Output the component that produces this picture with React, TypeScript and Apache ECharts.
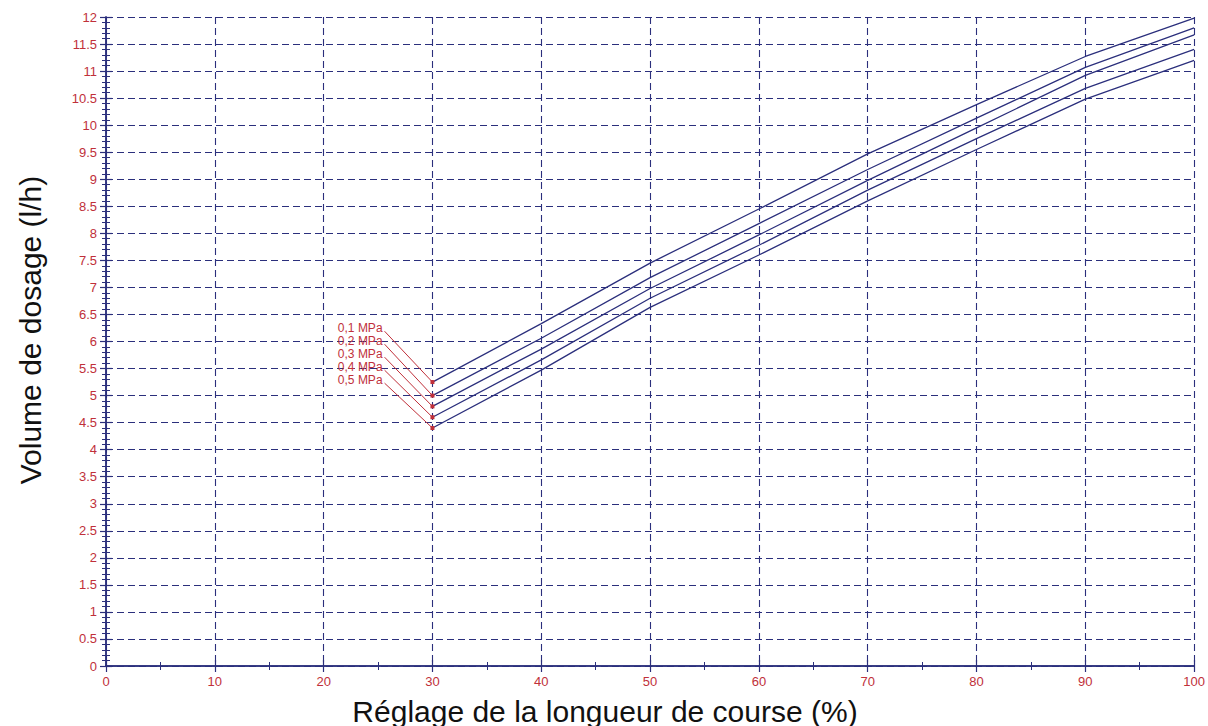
import React, { useEffect, useRef } from "react";
import * as echarts from "echarts";

const strokeX = [30, 40, 50, 60, 70, 80, 90, 100];
const pressureLabels = ["0,1 MPa", "0,2 MPa", "0,3 MPa", "0,4 MPa", "0,5 MPa"];
const flow01 = [5.25, 6.33, 7.45, 8.45, 9.47, 10.38, 11.27, 11.98];
const flow02 = [5.0, 6.06, 7.18, 8.18, 9.18, 10.13, 11.07, 11.8];
const flow03 = [4.8, 5.86, 6.98, 7.97, 8.98, 9.95, 10.92, 11.67];
const flow04 = [4.6, 5.66, 6.8, 7.78, 8.8, 9.75, 10.68, 11.4];
const flow05 = [4.4, 5.47, 6.63, 7.6, 8.6, 9.55, 10.48, 11.2];
const flows = [flow01, flow02, flow03, flow04, flow05];
const leaderX = 25.6;
const leaderY = [6.19, 5.95, 5.71, 5.47, 5.23];

const NAVY = "#2b2f7c";
const RED = "#c0303a";
const FONT = "Liberation Sans, Arial, sans-serif";

export default function App() {
  const ref = useRef<HTMLDivElement>(null);
  useEffect(() => {
    const chart = echarts.init(ref.current!, null, { renderer: "svg" });
    const axisCommon = {
      type: "value" as const,
      axisLine: { show: true, lineStyle: { color: NAVY, width: 1.5 } },
      axisTick: { show: true, inside: true, length: 6, lineStyle: { color: NAVY, width: 1.2 } },
      minorTick: { show: true, length: 4, lineStyle: { color: NAVY, width: 1 } },
    };
    const series: any[] = [];
    flows.forEach((f) => {
      series.push({
        type: "line",
        data: strokeX.map((x, j) => [x, f[j]]),
        symbol: "none",
        lineStyle: { color: NAVY, width: 1.3 },
        silent: true,
        z: 3,
      });
    });
    flows.forEach((f, i) => {
      series.push({
        type: "line",
        showSymbol: true,
        data: [
          {
            value: [leaderX, leaderY[i]],
            symbol: "circle",
            symbolSize: 0.01,
            label: {
              show: true,
              position: "left",
              distance: 2,
              offset: [0, -3],
              formatter: pressureLabels[i],
              color: RED,
              fontSize: 12,
              lineHeight: 11,
              fontFamily: FONT,
            },
          },
          { value: [30, f[0]], symbol: "rect", symbolSize: 4 },
        ],
        itemStyle: { color: RED },
        lineStyle: { color: RED, width: 1 },
        silent: true,
        z: 4,
      });
    });
    chart.setOption({
      animation: false,
      backgroundColor: "#ffffff",
      grid: { left: 106, top: 17, width: 1090, height: 649, containLabel: false },
      xAxis: [
        {
          ...axisCommon,
          min: 0,
          max: 100,
          interval: 10,
          minorTick: { ...axisCommon.minorTick, splitNumber: 2 },
          axisLabel: { color: RED, fontSize: 13, fontFamily: FONT, margin: 9 },
          splitLine: { show: true, lineStyle: { color: NAVY, type: [7, 4], width: 1.1 } },
        },
        {
          ...axisCommon,
          position: "top",
          min: 0,
          max: 100,
          interval: 10,
          minorTick: { ...axisCommon.minorTick, splitNumber: 2 },
          axisLabel: { show: false },
          splitLine: { show: false },
        },
      ],
      yAxis: [
        {
          ...axisCommon,
          min: 0,
          max: 12,
          interval: 0.5,
          minorTick: { ...axisCommon.minorTick, splitNumber: 5 },
          axisLabel: { color: RED, fontSize: 13, fontFamily: FONT, margin: 9 },
          splitLine: { show: true, lineStyle: { color: NAVY, type: [7, 4], width: 1.1 } },
        },
        {
          ...axisCommon,
          position: "right",
          min: 0,
          max: 12,
          interval: 0.5,
          minorTick: { ...axisCommon.minorTick, splitNumber: 5 },
          axisLabel: { show: false },
          splitLine: { show: false },
        },
      ],
      series,
      graphic: [
        {
          type: "text",
          x: 605,
          y: 711,
          style: {
            text: "Réglage de la longueur de course (%)",
            font: "30px " + FONT,
            fill: "#111",
            align: "center",
            verticalAlign: "middle",
          },
        },
        {
          type: "text",
          x: 30,
          y: 330,
          rotation: Math.PI / 2,
          style: {
            text: "Volume de dosage (l/h)",
            font: "30px " + FONT,
            fill: "#111",
            align: "center",
            verticalAlign: "middle",
          },
        },
      ],
    });
    return () => chart.dispose();
  }, []);
  return (
    <div
      ref={ref}
      style={{ position: "fixed", left: 0, top: 0, width: 1208, height: 726, background: "#fff" }}
    />
  );
}
